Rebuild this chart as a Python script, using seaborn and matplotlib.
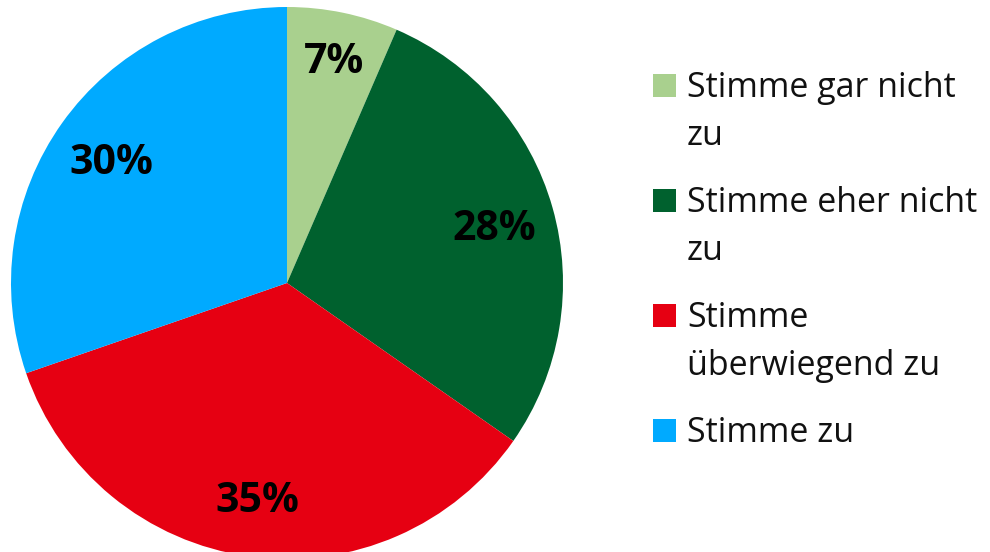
import matplotlib
matplotlib.use('Agg')
import matplotlib.pyplot as plt
from matplotlib.patches import Rectangle
import seaborn as sns

# data
categories = ["Stimme gar nicht\nzu", "Stimme eher nicht\nzu", "Stimme\nüberwiegend zu", "Stimme zu"]
shares = [6.5, 28.2, 35.0, 30.3]
pct_labels = ["7%", "28%", "35%", "30%"]
colors = ["#A9D08E", "#00612E", "#E60012", "#00AAFF"]

sns.set_theme(style="white")
plt.rcParams['font.family'] = ['Open Sans', 'DejaVu Sans']

W, H = 990, 552
fig = plt.figure(figsize=(W / 100, H / 100), dpi=100)
cx, cy, r = 287, 283, 276
ax = fig.add_axes([(cx - r) / W, (H - cy - r) / H, 2 * r / W, 2 * r / H])

wedges, texts = ax.pie(
    shares, colors=colors, startangle=90, counterclock=False,
    labels=pct_labels, labeldistance=0.78, radius=1,
    wedgeprops=dict(linewidth=0),
    textprops=dict(fontsize=29.5, fontweight="bold", color="black"))
for t in texts:
    t.set_ha("center")
    t.set_va("center_baseline")
# the small slice's label sits a bit further out
x0, y0 = texts[0].get_position()
texts[0].set_position((x0 * 1.07, y0 * 1.07))
ax.set_xlim(-1, 1)
ax.set_ylim(-1, 1)
ax.set_aspect("equal")
ax.axis("off")

# legend drawn by hand so the square sits on the first text line
base0, step, line_gap = 97, 115, 48
for i, (lab, col) in enumerate(zip(categories, colors)):
    b = base0 + step * i
    fig.patches.append(Rectangle((653 / W, 1 - b / H), 23 / W, 23 / H,
                                 transform=fig.transFigure, color=col, lw=0))
    for j, line in enumerate(lab.split("\n")):
        fig.text(687 / W, 1 - (b + line_gap * j) / H, line, fontsize=24.5,
                 color="#111111", ha="left", va="baseline")

fig.savefig("out.png", dpi=100)
